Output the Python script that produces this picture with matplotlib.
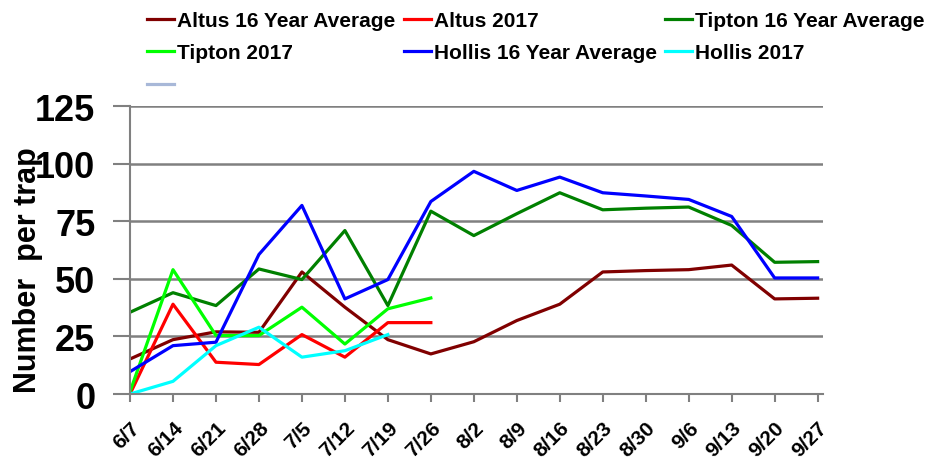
import matplotlib.pyplot as plt
from matplotlib.lines import Line2D

plt.rcParams["font.family"] = ["Liberation Sans", "DejaVu Sans"]
plt.rcParams["font.weight"] = "bold"

dates = ["6/7", "6/14", "6/21", "6/28", "7/5", "7/12", "7/19", "7/26", "8/2",
         "8/9", "8/16", "8/23", "8/30", "9/6", "9/13", "9/20", "9/27"]

altus_avg = [15.2, 23.6, 27, 26.8, 53, 37.7, 23.6, 17.4, 22.7,
             31.9, 39, 53, 53.6, 54, 56, 41.3, 41.6]
altus_2017 = [0, 39, 13.8, 12.8, 25.8, 16, 31, 31]
tipton_avg = [35.5, 44, 38.4, 54.3, 49.7, 71, 38.4, 79.4, 68.8,
              78.3, 87.4, 80, 80.7, 81.2, 73.2, 57.2, 57.5]
tipton_2017 = [1, 54, 25.4, 25.4, 37.7, 21.7, 37, 41.7]
hollis_avg = [9.7, 21, 22.5, 60.6, 81.9, 41.3, 49.7, 83.6, 96.7,
              88.4, 94.2, 87.4, 86, 84.5, 77.1, 50.4, 50.4]
hollis_2017 = [0, 5.5, 21, 29, 16, 18.8, 25.8]

fig = plt.figure(figsize=(9.49, 4.60), dpi=100)
ax = fig.add_axes([0.137, 0.1413, 0.73, 0.6257])

x = list(range(len(dates)))
lw = 2.3
l1, = ax.plot(x[:len(altus_avg)], altus_avg, color="#800000", lw=lw, label="Altus 16 Year Average")
l2, = ax.plot(x[:len(altus_2017)], altus_2017, color="#ff0000", lw=lw, label="Altus 2017")
l3, = ax.plot(x[:len(tipton_avg)], tipton_avg, color="#008000", lw=lw, label="Tipton 16 Year Average")
l4, = ax.plot(x[:len(tipton_2017)], tipton_2017, color="#00ff00", lw=lw, label="Tipton 2017")
l5, = ax.plot(x[:len(hollis_avg)], hollis_avg, color="#0000ff", lw=lw, label="Hollis 16 Year Average")
l6, = ax.plot(x[:len(hollis_2017)], hollis_2017, color="#00ffff", lw=lw, label="Hollis 2017")
blank = Line2D([], [], color="#a8b8d8", lw=lw, label=" ")

ax.set_xlim(0, 16.12)
ax.set_ylim(0, 125)
ax.set_yticks([0, 25, 50, 75, 100, 125])
ax.set_xticks(x)
ax.set_xticklabels(dates, rotation=45, ha="right", rotation_mode="anchor", fontsize=15)
ax.tick_params(axis="y", labelsize=26, length=12, color="#808080", width=1.5, pad=13)
ax.tick_params(axis="x", length=6, color="#808080", width=1.5, pad=11)
ax.grid(axis="y", color="#808080", lw=1.8)
ax.set_axisbelow(True)
for s in ["top", "right"]:
    ax.spines[s].set_visible(False)
for s in ["left", "bottom"]:
    ax.spines[s].set_color("#808080")
    ax.spines[s].set_linewidth(1.5)

ax.set_ylabel("Number  per trap", fontsize=22, fontweight="bold")
ax.yaxis.set_label_coords(-0.126, 0.434)

# column-wise fill: matches the 3-column layout of the original legend
handles = [l1, l4, blank, l2, l5, l3, l6]
fig.legend(handles=handles, labels=[h.get_label() for h in handles], ncol=3,
           loc="upper left", bbox_to_anchor=(0.135, 1.015), frameon=False,
           fontsize=15, handlelength=1.3, handletextpad=0.15, columnspacing=0.4,
           labelspacing=0.65)

fig.savefig("out.png", dpi=100)
